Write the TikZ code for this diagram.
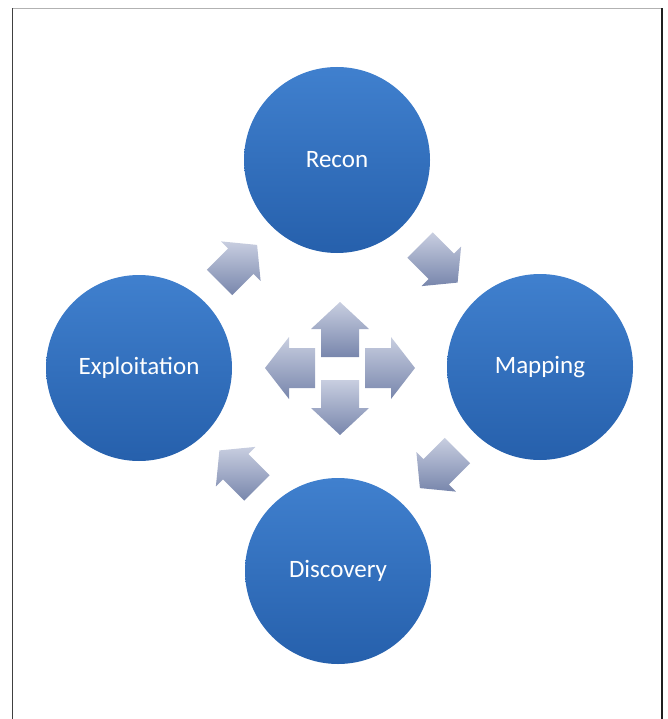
\documentclass[tikz,border=0pt]{standalone}
\usepackage{fontspec}
\setmainfont{Carlito}
\usetikzlibrary{calc}
\definecolor{stagetop}{RGB}{64,128,206}
\definecolor{stagebottom}{RGB}{38,96,172}
\definecolor{arrtop}{RGB}{200,206,224}
\definecolor{arrbottom}{RGB}{120,134,172}
\begin{document}
\begin{tikzpicture}[x=1pt,y=-1pt,
  stage/.style={circle, minimum size=186pt, inner sep=0pt,
    top color=stagetop, bottom color=stagebottom,
    font=\fontsize{25}{29}\selectfont, text=white},
  arrowfill/.style={top color=arrtop, bottom color=arrbottom},
  % block arrow along +x: base, tip, shaft half-width, head half-width, head length
  pics/blockarrow/.style n args={5}{code={
    \shade[arrowfill] (#1,-#3) -- (#2-#5,-#3) -- (#2-#5,-#4) -- (#2,0)
      -- (#2-#5,#4) -- (#2-#5,#3) -- (#1,#3) -- cycle;}},
  frameline/.style={line width=1.5pt}
]
\useasboundingbox (0,0) rectangle (668,719);

% frame
\draw[frameline, gray!60] (12.5,8.5) -- (662,8.5);
\draw[frameline, black!75] (12.5,8.5) -- (12.5,719);
\draw[frameline, black!88] (662,8.5) -- (662,719);

% the four stages
\node[stage] (recon) at (337,160) {Recon};
\node[stage] (mapping) at (540,367) {Mapping};
\node[stage] (discovery) at (338,571) {Discovery};
\node[stage] (exploit) at (139,368) {Exploitation};
\coordinate (hub) at (340,368);

% cycle arrows between stages
\pic[rotate=45] at ($(exploit)!0.5!(recon)$) {blockarrow={-26}{27}{18}{28}{23}};
\pic[rotate=-45] at ($(recon)!0.5!(mapping)$) {blockarrow={-26}{27}{18}{28}{23}};
\pic[rotate=-135] at ($(mapping)!0.5!(discovery)$) {blockarrow={-26}{27}{18}{28}{23}};
\pic[rotate=135] at ($(discovery)!0.5!(exploit)$) {blockarrow={-26}{27}{18}{28}{23}};

% central four-way arrows
\pic[rotate=90] at (hub) {blockarrow={11}{66}{19}{29}{27}};
\pic[rotate=-90] at (hub) {blockarrow={12}{67}{19}{29}{27}};
\pic[rotate=180] at (hub) {blockarrow={25}{75}{20}{31}{24}};
\pic at (hub) {blockarrow={25}{75}{20}{31}{24}};
\end{tikzpicture}
\end{document}
